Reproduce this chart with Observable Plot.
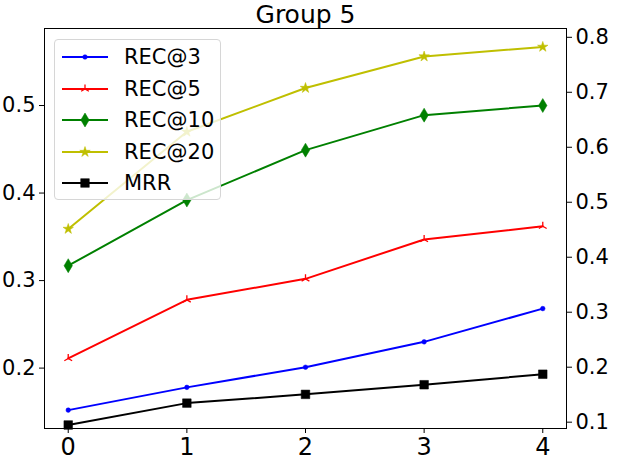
<!DOCTYPE html>
<html>
<head>
<meta charset="utf-8">
<script src="https://cdn.jsdelivr.net/npm/d3@7"></script>
<script src="https://cdn.jsdelivr.net/npm/@observablehq/plot@0.6"></script>
<style>
  body { margin: 0; background: white; }
  #wrap { position: relative; width: 618px; height: 462px; font-family: "DejaVu Sans", sans-serif; }
  #legend { position: absolute; left: 54px; top: 39px; width: 167px; height: 161px;
    background: rgba(255,255,255,0.8); border: 1px solid #d6d6d6; border-radius: 4px; box-sizing: border-box; }
  .row { position: absolute; left: 0; height: 30px; display: flex; align-items: center; }
  .row svg { margin-left: 7px; }
  .row span { margin-left: 16px; font-size: 21px; color: black; }
</style>
</head>
<body>
<div id="wrap"></div>
<script>
const steps = [0, 1, 2, 3, 4];
const seriesNames = ["REC@3", "REC@5", "REC@10", "REC@20", "MRR"];
const rec3  = [0.152, 0.178, 0.201, 0.230, 0.268];
const rec5  = [0.211, 0.278, 0.302, 0.347, 0.362];
const rec10 = [0.317, 0.392, 0.449, 0.489, 0.500];
const rec20 = [0.359, 0.470, 0.520, 0.556, 0.567];
const mrr   = [0.135, 0.160, 0.170, 0.181, 0.193];
const leftTicks = [0.2, 0.3, 0.4, 0.5];
const rightTicks = [0.1, 0.2, 0.3, 0.4, 0.5, 0.6, 0.7, 0.8];
const xTicks = [0, 1, 2, 3, 4];
const title = "Group 5";

const leftDomain = [0.131, 0.588];
const rightDomain = [0.0885, 0.816];
const toLeft = r => leftDomain[0] + (r - rightDomain[0]) * (leftDomain[1] - leftDomain[0]) / (rightDomain[1] - rightDomain[0]);
const fromLeft = l => rightDomain[0] + (l - leftDomain[0]) * (rightDomain[1] - rightDomain[0]) / (leftDomain[1] - leftDomain[0]);

// custom symbols (matplotlib-like)
const triUp = { draw(ctx, size) { const r = Math.sqrt(size / Math.PI);
  ctx.moveTo(0, 0); ctx.lineTo(0, -r);
  ctx.moveTo(0, 0); ctx.lineTo(-r * 0.866, r * 0.5);
  ctx.moveTo(0, 0); ctx.lineTo(r * 0.866, r * 0.5); } };
const thinDiamond = { draw(ctx, size) { const r = Math.sqrt(size / Math.PI);
  ctx.moveTo(0, -r); ctx.lineTo(0.6 * r, 0); ctx.lineTo(0, r); ctx.lineTo(-0.6 * r, 0); ctx.closePath(); } };
const square = { draw(ctx, size) { const r = Math.sqrt(size / Math.PI);
  ctx.rect(-r, -r, 2 * r, 2 * r); } };
const star = { draw(ctx, size) { const R = Math.sqrt(size / Math.PI), ri = R * 0.382;
  for (let i = 0; i < 10; i++) { const a = -Math.PI / 2 + i * Math.PI / 5; const rr = i % 2 ? ri : R;
    const px = rr * Math.cos(a), py = rr * Math.sin(a); if (i) ctx.lineTo(px, py); else ctx.moveTo(px, py); }
  ctx.closePath(); } };
const circle = { draw(ctx, size) { const r = Math.sqrt(size / Math.PI); ctx.moveTo(r, 0); ctx.arc(0, 0, r, 0, 2 * Math.PI); } };

const styles = [
  { name: "REC@3",  values: rec3,  color: "#0000ff", symbol: circle, r: 2.3, filled: true },
  { name: "REC@5",  values: rec5,  color: "#ff0000", symbol: triUp, r: 4.5, filled: false },
  { name: "REC@10", values: rec10, color: "#008000", symbol: thinDiamond, r: 7, filled: true },
  { name: "REC@20", values: rec20, color: "#bfbf00", symbol: star, r: 5.5, filled: true },
  { name: "MRR",    values: mrr,   color: "#000000", symbol: square, r: 4.3, filled: true }
];

const marks = [];
for (const s of styles) {
  const data = steps.map((x, i) => ({ x, y: s.values[i] }));
  marks.push(Plot.line(data, { x: "x", y: "y", stroke: s.color, strokeWidth: 2 }));
  marks.push(Plot.dot(data, { x: "x", y: "y", r: s.r, symbol: s.symbol,
    fill: s.filled ? s.color : "none", stroke: s.color, strokeWidth: s.filled ? 0.5 : 1.3 }));
}

const chart = Plot.plot({
  width: 618, height: 462,
  marginLeft: 44, marginRight: 52, marginTop: 28, marginBottom: 34,
  style: { fontFamily: "DejaVu Sans", background: "white", color: "black", overflow: "visible" },
  x: { type: "linear", domain: [-0.2, 4.2] },
  y: { type: "linear", domain: leftDomain },
  marks: [
    Plot.axisX({ ticks: xTicks, tickFormat: d => String(d), tickSize: 5, tickPadding: 4, fontSize: 24, label: null }),
    Plot.axisY({ ticks: leftTicks, tickFormat: d => d.toFixed(1), tickSize: 5, tickPadding: 4, fontSize: 21, label: null, anchor: "left" }),
    Plot.axisY({ ticks: rightTicks.map(toLeft), tickFormat: d => fromLeft(d).toFixed(1), tickSize: 5, tickPadding: 4, fontSize: 21, label: null, anchor: "right" }),
    ...marks,
    Plot.frame({ stroke: "black", strokeWidth: 1 }),
    Plot.text([title], { frameAnchor: "top", lineAnchor: "bottom", dy: -6, fontSize: 25, fill: "black" })
  ]
});

const wrap = document.getElementById("wrap");
wrap.appendChild(chart);

// legend
const legend = document.createElement("div");
legend.id = "legend";
styles.forEach((s, i) => {
  const row = document.createElement("div");
  row.className = "row";
  row.style.top = (2 + i * 31.6) + "px";
  const svg = d3.create("svg").attr("width", 46).attr("height", 30);
  svg.append("line").attr("x1", 0).attr("x2", 46).attr("y1", 15).attr("y2", 15).attr("stroke", s.color).attr("stroke-width", 2);
  svg.append("path").attr("transform", "translate(23,15)")
    .attr("d", d3.symbol(s.symbol, Math.PI * s.r * s.r)())
    .attr("fill", s.filled ? s.color : "none").attr("stroke", s.color).attr("stroke-width", s.filled ? 0.5 : 1.3);
  row.appendChild(svg.node());
  const label = document.createElement("span");
  label.textContent = s.name;
  row.appendChild(label);
  legend.appendChild(row);
});
wrap.appendChild(legend);
</script>
</body>
</html>
